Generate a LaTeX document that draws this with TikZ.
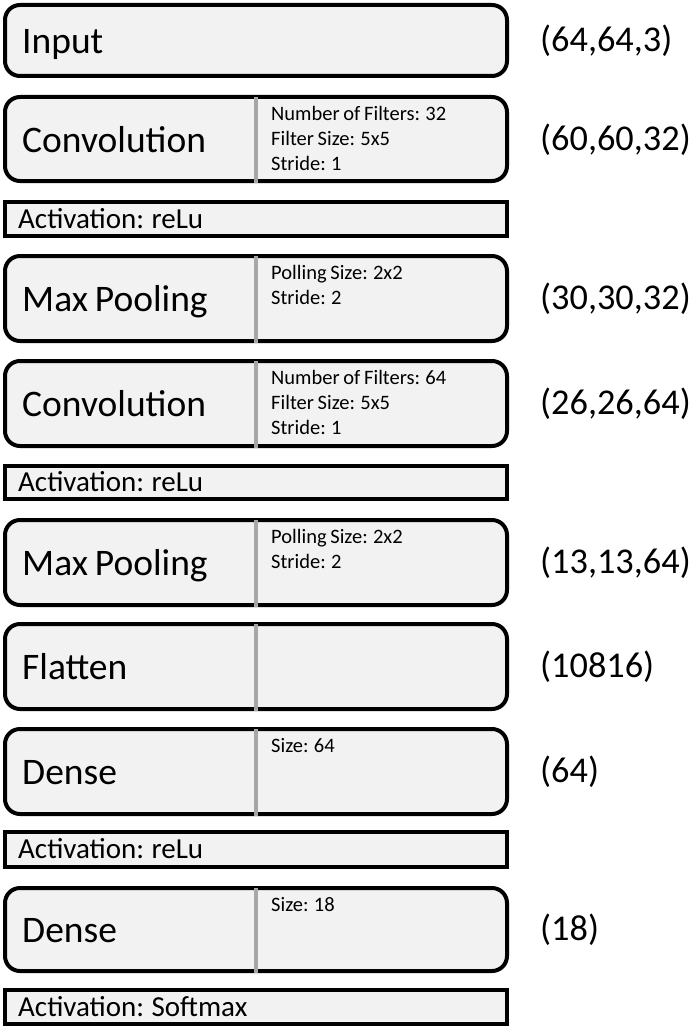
\documentclass[tikz,border=0pt]{standalone}
\usepackage{fontspec}
\setmainfont[WordSpace=0.8]{Carlito}
\begin{document}
\begin{tikzpicture}[x=1pt,y=1pt,
  layer/.style={draw=black, line width=4pt, fill=boxgray, rounded corners=15pt, minimum width=502pt, inner sep=0pt},
  actbox/.style={draw=black, line width=4pt, fill=boxgray, minimum width=502pt, inner sep=0pt},
  mainlbl/.style={anchor=base west, inner sep=0pt, font=\fontsize{37.5}{40}\selectfont},
  actlbl/.style={anchor=base west, inner sep=0pt, font=\fontsize{29}{32}\selectfont},
  shapelbl/.style={anchor=base west, inner sep=0pt, font=\fontsize{36.3}{40}\selectfont},
  paramlbl/.style={anchor=north west, inner sep=0pt, align=left, font=\fontsize{20.5}{25}\selectfont},
  divider/.style={draw=divgray, line width=4pt}
]
\definecolor{boxgray}{HTML}{F2F2F2}
\definecolor{divgray}{HTML}{A6A6A6}
\useasboundingbox (0,0) rectangle (694,-1030);
\fill[white] (0,0) rectangle (694,-1030);

% boxes
\node[layer, minimum height=71pt] (input) at (256,-40.5) {};
\node[layer, minimum height=84pt] (conv1) at (256,-139) {};
\node[actbox, minimum height=34pt] (act1) at (256,-219) {};
\node[layer, minimum height=85pt] (mp1) at (256,-298.5) {};
\node[layer, minimum height=85pt] (conv2) at (256,-403.5) {};
\node[actbox, minimum height=33pt] (act2) at (256,-482.5) {};
\node[layer, minimum height=85pt] (mp2) at (256,-562.5) {};
\node[layer, minimum height=85pt] (flat) at (256,-666.5) {};
\node[layer, minimum height=85pt] (dense1) at (256,-771.5) {};
\node[actbox, minimum height=35pt] (act3) at (256,-849.5) {};
\node[layer, minimum height=83pt] (dense2) at (256,-929.5) {};
\node[actbox, minimum height=34pt] (act4) at (256,-1007) {};

% dividers
\coordinate (xd) at (256,0);
\foreach \b in {conv1,mp1,conv2,mp2,flat,dense1,dense2}{
  \draw[divider] (\b.north -| xd) ++(0,-2) -- (\b.south -| xd);
}

% main labels
\coordinate (xm) at (22,0);
\node[mainlbl] (tinput) at ([yshift=-13pt]input.west -| xm) {Input};
\node[mainlbl] (tconv1) at ([yshift=-13pt]conv1.west -| xm) {Convolution};
\node[mainlbl] (tmp1) at ([yshift=-13pt]mp1.west -| xm) {Max Pooling};
\node[mainlbl] (tconv2) at ([yshift=-13pt]conv2.west -| xm) {Convolution};
\node[mainlbl] (tmp2) at ([yshift=-13pt]mp2.west -| xm) {Max Pooling};
\node[mainlbl] (tflat) at ([yshift=-13pt]flat.west -| xm) {Flatten};
\node[mainlbl] (tdense1) at ([yshift=-13pt]dense1.west -| xm) {Dense};
\node[mainlbl] (tdense2) at ([yshift=-13pt]dense2.west -| xm) {Dense};

% activation labels
\coordinate (xa) at (18,0);
\node[actlbl] (tact1) at ([yshift=-9pt]act1.west -| xa) {Activation: reLu};
\node[actlbl] (tact2) at ([yshift=-9pt]act2.west -| xa) {Activation: reLu};
\node[actlbl] (tact3) at ([yshift=-9pt]act3.west -| xa) {Activation: reLu};
\node[actlbl] (tact4) at ([yshift=-9pt]act4.west -| xa) {Activation: Softmax};

% parameter labels
\coordinate (xp) at (271,0);
\node[paramlbl] (pconv1) at ([yshift=-11pt]conv1.north -| xp) {Number of Filters: 32\\Filter Size: 5x5\\Stride: 1};
\node[paramlbl] (pmp1) at ([yshift=-11pt]mp1.north -| xp) {Polling Size: 2x2\\Stride: 2};
\node[paramlbl] (pconv2) at ([yshift=-11pt]conv2.north -| xp) {Number of Filters: 64\\Filter Size: 5x5\\Stride: 1};
\node[paramlbl] (pmp2) at ([yshift=-11pt]mp2.north -| xp) {Polling Size: 2x2\\Stride: 2};
\node[paramlbl] (pdense1) at ([yshift=-11pt]dense1.north -| xp) {Size: 64};
\node[paramlbl] (pdense2) at ([yshift=-11pt]dense2.north -| xp) {Size: 18};

% shape labels
\coordinate (xs) at (540,0);
\node[shapelbl] (sinput) at ([yshift=-11pt]input.east -| xs) {(64,64,3)};
\node[shapelbl] (sconv1) at ([yshift=-11pt]conv1.east -| xs) {(60,60,32)};
\node[shapelbl] (smp1) at ([yshift=-11pt]mp1.east -| xs) {(30,30,32)};
\node[shapelbl] (sconv2) at ([yshift=-11pt]conv2.east -| xs) {(26,26,64)};
\node[shapelbl] (smp2) at ([yshift=-11pt]mp2.east -| xs) {(13,13,64)};
\node[shapelbl] (sflat) at ([yshift=-11pt]flat.east -| xs) {(10816)};
\node[shapelbl] (sdense1) at ([yshift=-11pt]dense1.east -| xs) {(64)};
\node[shapelbl] (sdense2) at ([yshift=-11pt]dense2.east -| xs) {(18)};
\end{tikzpicture}
\end{document}
